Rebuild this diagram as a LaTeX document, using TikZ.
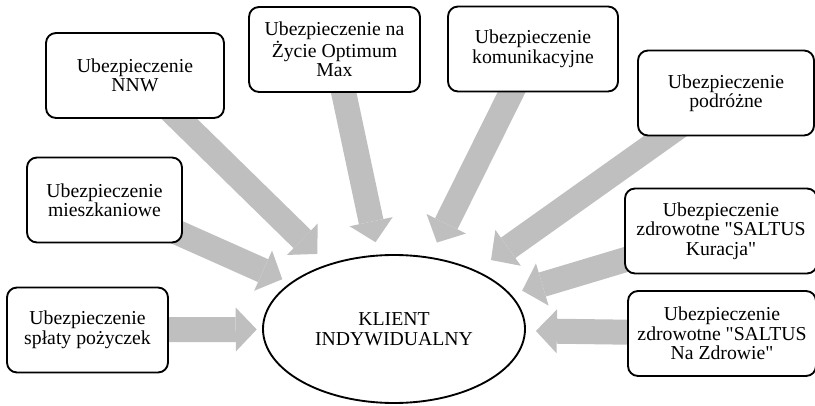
\documentclass[tikz,border=0pt]{standalone}
\usepackage{tikz}
\usepackage{fontspec}
\setmainfont{Liberation Serif}[Ligatures=TeXOff]
\usetikzlibrary{arrows.meta,%
                shapes.geometric,%
                backgrounds}
\definecolor{szary}{RGB}{191,191,191}

\begin{document}
\begin{tikzpicture}[x=0.75pt,y=-0.75pt]
  \useasboundingbox (0,0) rectangle (815,406);

  \tikzstyle{Box}=[draw,rounded corners=7.5pt,line width=1.4pt,fill=white,
    align=center,inner sep=0pt,minimum height=63.75pt,
    font=\fontsize{14.8}{14.6}\selectfont]
  \tikzstyle{Strzalka}=[draw=szary,line width=18.75pt,
    -{Triangle[length=15.75pt,width=33pt,line width=0pt]}]

  \node[Box,minimum width=133.5pt] (nnw) at (135,75.5) {Ubezpieczenie\\NNW};
  \node[Box,minimum width=128.25pt] (zycie) at (334.5,49.5) {Ubezpieczenie na\\Życie Optimum\\Max};
  \node[Box,minimum width=127.5pt] (komunik) at (533,49) {Ubezpieczenie\\komunikacyjne};
  \node[Box,minimum width=132pt] (podroz) at (726,93) {Ubezpieczenie\\podróżne};
  \node[Box,minimum width=116.25pt] (mieszk) at (104.5,200) {Ubezpieczenie\\mieszkaniowe};
  \node[Box,minimum width=120.75pt] (splaty) at (87.5,330) {Ubezpieczenie\\spłaty pożyczek};
  \node[Box,minimum width=144pt] (kuracja) at (721,231) {Ubezpieczenie\\zdrowotne "SALTUS\\Kuracja"};
  \node[Box,minimum width=141pt] (zdrowie) at (722,333.5) {Ubezpieczenie\\zdrowotne "SALTUS\\Na Zdrowie"};

  \node[draw,ellipse,line width=1.4pt,fill=white,align=center,inner sep=0pt,
    minimum width=196.5pt,minimum height=111pt,
    font=\fontsize{14.8}{14.6}\selectfont] (klient) at (394,329) {KLIENT\\INDYWIDUALNY};

  \begin{pgfonlayer}{background}
    \draw[Strzalka,shorten >=11pt] (nnw.center) -- (klient);
    \draw[Strzalka,shorten >=9.5pt] (zycie.center) -- (klient);
    \draw[Strzalka,shorten >=12pt] (komunik.center) -- (klient);
    \draw[Strzalka,shorten >=13.5pt] (podroz.center) -- (klient);
    \draw[Strzalka,shorten >=6.5pt] (mieszk.center) -- (klient);
    \draw[Strzalka,shorten >=4pt] (splaty.center) -- (klient);
    \draw[Strzalka,shorten >=9pt] (kuracja.center) -- (klient);
    \draw[Strzalka,shorten >=7.5pt] (zdrowie.center) -- (klient);
  \end{pgfonlayer}
\end{tikzpicture}
\end{document}
